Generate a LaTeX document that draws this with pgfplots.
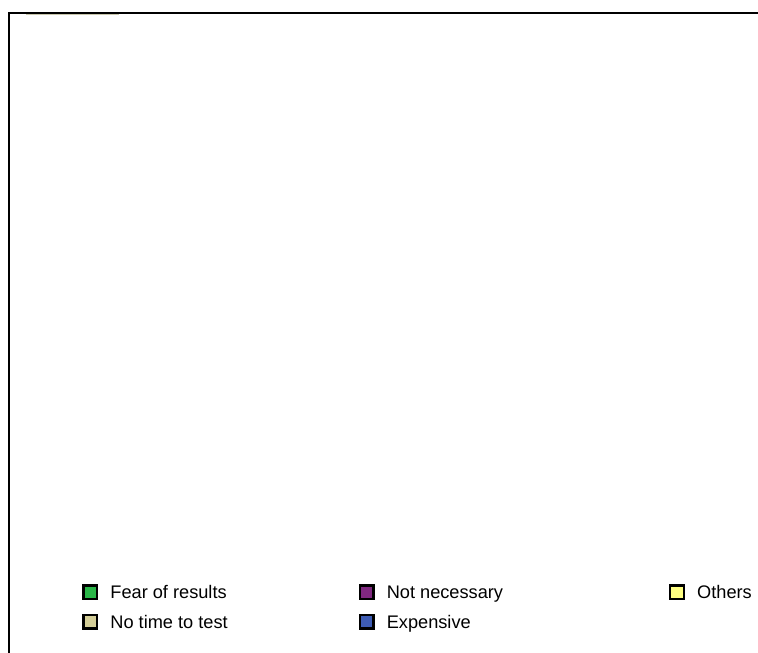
\documentclass[border=0pt]{standalone}
\usepackage{pgfplots}
\pgfplotsset{compat=1.18}
\usepackage{fontspec}
\setmainfont{Liberation Sans}
\definecolor{cFear}{RGB}{42,182,72}
\definecolor{cNoTime}{RGB}{212,206,152}
\definecolor{cNotNec}{RGB}{128,40,128}
\definecolor{cExp}{RGB}{62,92,180}
\definecolor{cOther}{RGB}{255,255,130}
\definecolor{cSliver}{RGB}{200,198,172}
\begin{document}
\fontsize{18.2pt}{22pt}\selectfont
\begin{tikzpicture}
\begin{axis}[
  at={(0,0)}, anchor=south west,
  scale only axis,
  width=749pt, height=640pt,
  xmin=9, xmax=758, ymin=0, ymax=640,
  hide axis,
  clip=false,
  legend columns=3,
  legend cell align=left,
  legend style={at={(0.09746,0.11797)}, anchor=north west, draw=none, fill=none,
    inner sep=0pt, outer sep=0pt, column sep=0pt, row sep=0pt,
    nodes={inner sep=0pt, text height=13pt, text depth=0pt, font=\fontsize{18.2pt}{22pt}\selectfont}},
  legend image code/.code={
    \path (0pt,-14.5pt) (28pt,14.5pt);
    \draw[#1, line width=2.5pt] (1.2pt,-6.8pt) rectangle (14.8pt,6.8pt);
  },
]
\draw[black, line width=2.8pt, line cap=rect] (rel axis cs:0,0) -- (rel axis cs:0,1) -- (rel axis cs:1,1);
\addplot[cSliver, line width=1.2pt, forget plot] coordinates {(26,638.8) (119,638.8)};
\addlegendimage{fill=cFear, draw=black}
\addlegendentry{\makebox[248pt][l]{Fear of results}}
\addlegendimage{fill=cNotNec, draw=black}
\addlegendentry{\makebox[282pt][l]{Not necessary}}
\addlegendimage{fill=cOther, draw=black}
\addlegendentry{Others}
\addlegendimage{fill=cNoTime, draw=black}
\addlegendentry{\makebox[248pt][l]{No time to test}}
\addlegendimage{fill=cExp, draw=black}
\addlegendentry{\makebox[282pt][l]{Expensive}}
\end{axis}
\pgfresetboundingbox
\useasboundingbox (-9pt,0pt) rectangle (749pt,653pt);
\end{tikzpicture}
\end{document}
